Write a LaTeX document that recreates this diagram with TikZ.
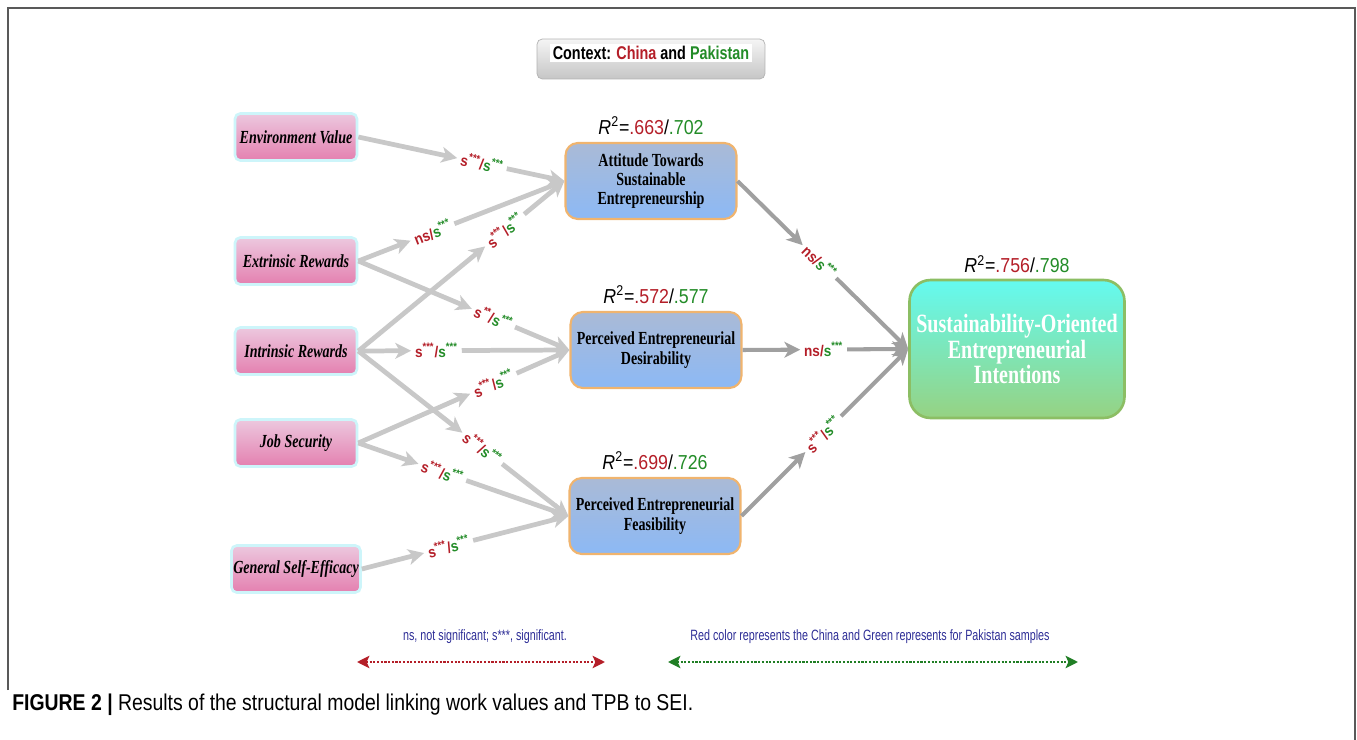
\documentclass[tikz,border=0pt]{standalone}
\usepackage{fontspec}
\setmainfont{Liberation Serif}[FakeStretch=0.76]
\setsansfont{Liberation Sans}[FakeStretch=0.88]
\newfontfamily\legendfont{Liberation Sans}[FakeStretch=0.72]
\newfontfamily\contextfont{Liberation Sans}[FakeStretch=0.78]
\newfontfamily\captionfont{Liberation Sans}[FakeStretch=0.85]
\usepackage{tikz}
\usetikzlibrary{arrows.meta,positioning}
\definecolor{CNRed}{RGB}{180,30,40}
\definecolor{PKGreen}{RGB}{35,140,40}
\definecolor{LegBlue}{RGB}{45,45,150}
\definecolor{PinkTop}{RGB}{236,200,222}
\definecolor{PinkBot}{RGB}{228,128,176}
\definecolor{PinkEdge}{RGB}{205,245,250}
\definecolor{BlueTop}{RGB}{170,186,214}
\definecolor{BlueBot}{RGB}{140,185,245}
\definecolor{BlueEdge}{RGB}{240,180,110}
\definecolor{SEITop}{RGB}{100,250,240}
\definecolor{SEIBot}{RGB}{150,210,130}
\definecolor{SEIEdge}{RGB}{140,190,100}
\definecolor{ArrLight}{RGB}{200,200,200}
\definecolor{ArrDark}{RGB}{160,160,160}

\newcommand{\sigst}{s\textsuperscript{***}}
\newcommand{\pathlab}[2]{{\color{CNRed}#1/}{\color{PKGreen}#2}}
\newcommand{\rsq}[2]{\textit{R}\textsuperscript{2}=\textcolor{CNRed}{#1}/\textcolor{PKGreen}{#2}}

\begin{document}
\begin{tikzpicture}[x=0.02cm,y=-0.02cm,
    wvbox/.style={draw=PinkEdge, line width=1.5pt, rounded corners=3pt,
      top color=PinkTop, bottom color=PinkBot, minimum width=2.44cm,
      minimum height=0.94cm, inner sep=1pt,
      font=\bfseries\itshape\fontsize{10.5}{12}\selectfont},
    tpbbox/.style={draw=BlueEdge, line width=1.2pt, rounded corners=7pt,
      top color=BlueTop, bottom color=BlueBot, minimum width=3.42cm,
      minimum height=1.52cm, align=center},
    seibox/.style={draw=SEIEdge, line width=1.5pt, rounded corners=12pt,
      top color=SEITop, bottom color=SEIBot, minimum width=4.3cm,
      minimum height=2.76cm, align=center, text=white,
      font=\bfseries\fontsize{15}{14.6}\selectfont},
    rlabel/.style={font=\sffamily\fontsize{11.5}{13}\selectfont, inner sep=1pt},
    pathlabel/.style={sloped, fill=white, inner sep=2pt,
      font=\sffamily\bfseries\fontsize{8.8}{10}\selectfont},
    wvarrow/.style={draw=ArrLight, line width=2.7pt,
      -{Stealth[length=9pt,width=9pt,inset=2.5pt]}},
    tpbarrow/.style={draw=ArrDark, line width=2.3pt,
      -{Stealth[length=9pt,width=9pt,inset=2.5pt]}},
    legarrow/.style={line width=1.6pt, dash pattern=on 1.2pt off 0.9pt,
      {Stealth[length=7pt,width=7pt,inset=1.5pt]}-{Stealth[length=7pt,width=7pt,inset=1.5pt]}},
    legtext/.style={text=LegBlue, font=\legendfont\fontsize{8.5}{10}\selectfont}]
  \useasboundingbox (0,0) rectangle (1357,740);
  % frame
  \draw[gray!70!black, line width=1pt] (8,690) -- (8,8) -- (1355,8) -- (1355,740);

  % context
  \node[draw=gray!60, rounded corners=3pt, top color=gray!8, bottom color=gray!45,
    minimum width=4.56cm, minimum height=0.8cm] (ctx) at (651,59) {};
  \node[fill=white, inner sep=1.5pt, font=\contextfont\bfseries\fontsize{10.5}{12}\selectfont]
    (ctxtext) at (651,53) {Context: \textcolor{CNRed}{China} and \textcolor{PKGreen}{Pakistan}};

  % work values
  \node[wvbox] (ev) at (296,137) {Environment Value};
  \node[wvbox] (er) at (296,261) {Extrinsic Rewards};
  \node[wvbox] (ir) at (296,351) {Intrinsic Rewards};
  \node[wvbox] (js) at (296,443) {Job Security};
  \node[wvbox] (gse) at (296,569) {General Self-Efficacy};

  % TPB
  \node[tpbbox, font=\bfseries\fontsize{10.5}{10.6}\selectfont] (ats) at (651,181)
    {Attitude Towards\\Sustainable\\Entrepreneurship};
  \node[tpbbox, font=\bfseries\fontsize{10.5}{11.8}\selectfont] (ped) at (656,350)
    {Perceived Entrepreneurial\\Desirability};
  \node[tpbbox, font=\bfseries\fontsize{10.5}{11.8}\selectfont] (pef) at (655,516)
    {Perceived Entrepreneurial\\Feasibility};
  \node[seibox] (sei) at (1017,349)
    {Sustainability-Oriented\\Entrepreneurial\\Intentions};

  \node[rlabel, above=3pt of ats] (rats) {\rsq{.663}{.702}};
  \node[rlabel, above=3pt of ped] (rped) {\rsq{.572}{.577}};
  \node[rlabel, above=3pt of pef] (rpef) {\rsq{.699}{.726}};
  \node[rlabel, above=2pt of sei] (rsei) {\rsq{.756}{.798}};

  % paths
  \foreach \src/\dst/\p/\lab in {
      ev/ats/.60/{\pathlab{\sigst}{\sigst}},
      er/ats/.36/{\pathlab{ns}{\sigst}},
      ir/ats/.71/{\pathlab{\sigst}{\sigst}},
      er/ped/.64/{\pathlab{s\textsuperscript{**}}{\sigst}},
      ir/ped/.37/{\pathlab{\sigst}{\sigst}},
      js/ped/.64/{\pathlab{\sigst}{\sigst}},
      ir/pef/.59/{\pathlab{\sigst}{\sigst}},
      js/pef/.40/{\pathlab{\sigst}{\sigst}},
      gse/pef/.42/{\pathlab{\sigst}{\sigst}}} {
    \path (\src.east) -- node[pathlabel, pos=\p] (lab-\src-\dst) {\lab} (\dst.west);
    \draw[wvarrow] (\src.east) -- (lab-\src-\dst);
    \draw[wvarrow] (lab-\src-\dst) -- (\dst.west);
  }
  \foreach \src/\p/\lab in {
      ats/.48/{\pathlab{ns}{\sigst}},
      ped/.49/{\pathlab{ns}{\sigst}},
      pef/.49/{\pathlab{\sigst}{\sigst}}} {
    \path (\src.east) -- node[pathlabel, pos=\p] (lab-\src-sei) {\lab} (sei.west);
    \draw[tpbarrow] (\src.east) -- (lab-\src-sei);
    \draw[tpbarrow] (lab-\src-sei) -- (sei.west);
  }

  % legend
  \node[legtext] (legsig) at (485,637) {ns, not significant; s***, significant.};
  \coordinate (legsigL) at (357,662);
  \coordinate (legsigR) at (605,662);
  \draw[legarrow, CNRed] (legsigL) -- (legsigR);
  \node[legtext] (legcol) at (870,637) {Red color represents the China and Green represents for Pakistan samples};
  \coordinate (legcolL) at (668,662);
  \coordinate (legcolR) at (1078,662);
  \draw[legarrow, PKGreen!90!black] (legcolL) -- (legcolR);

  % caption
  \node[anchor=west, inner sep=0pt, font=\captionfont\fontsize{13}{15}\selectfont] (cap) at (12,705)
    {\textbf{FIGURE 2 |} Results of the structural model linking work values and TPB to SEI.};
\end{tikzpicture}
\end{document}
